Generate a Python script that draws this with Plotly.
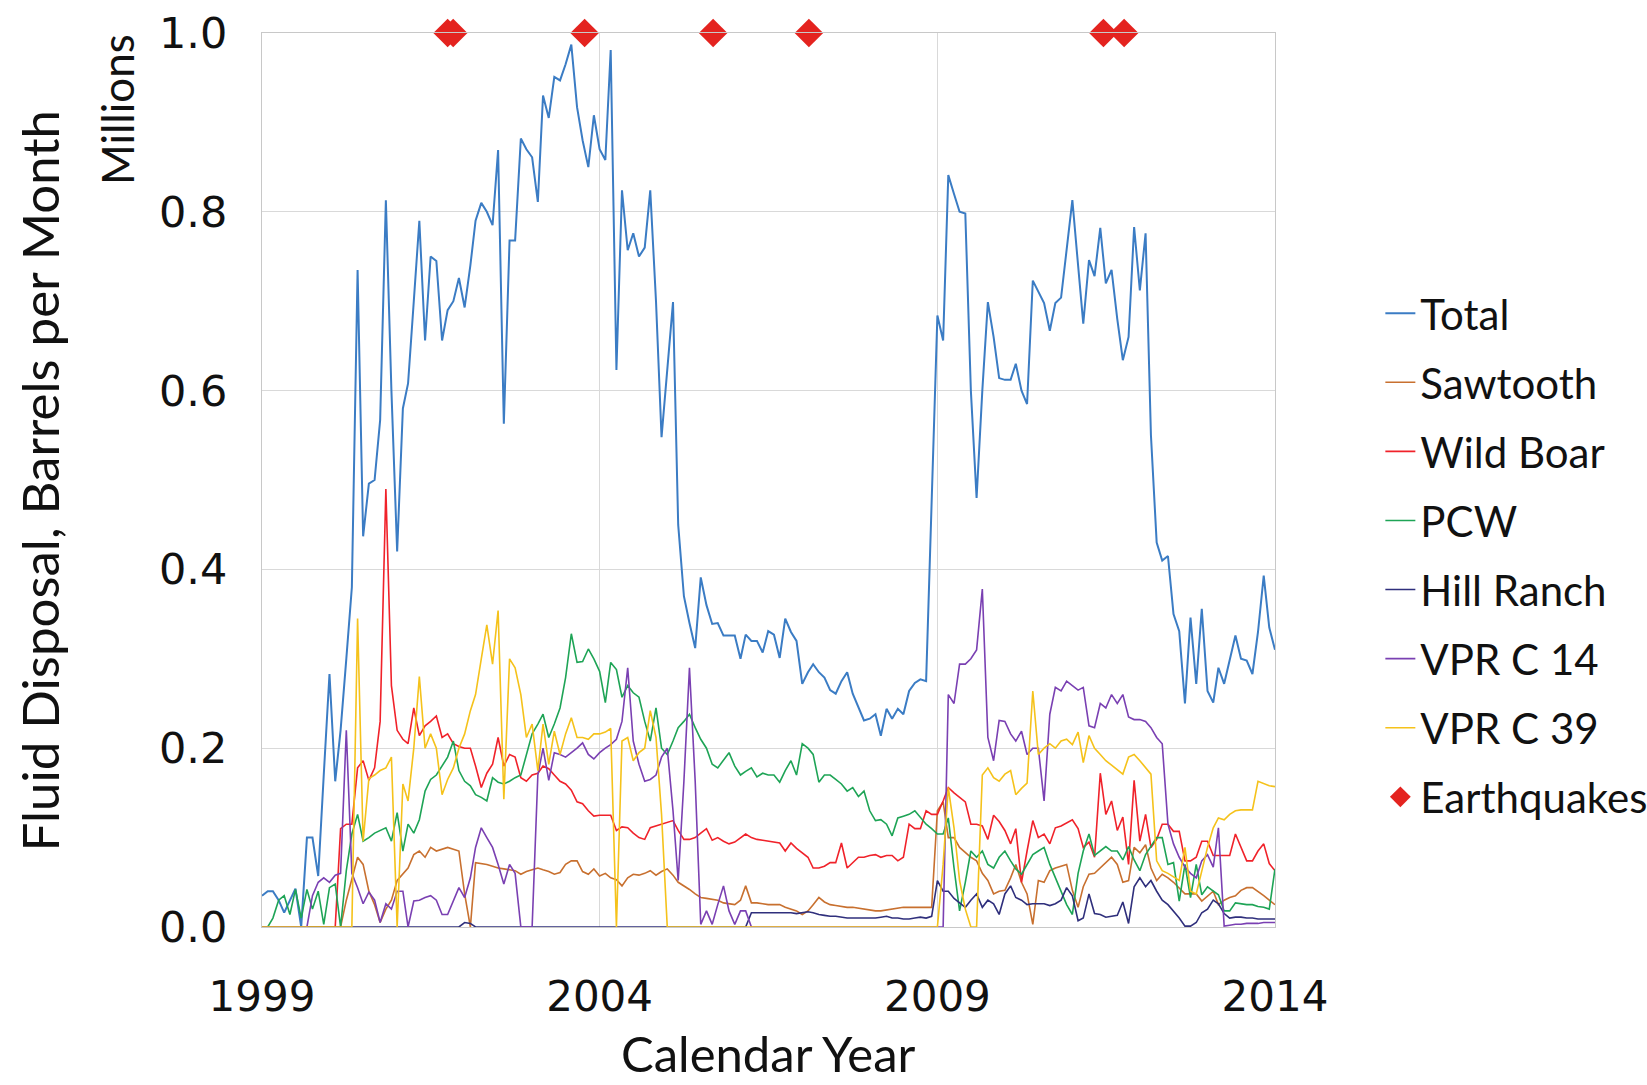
import pandas as pd
import plotly.graph_objects as go

# Monthly fluid disposal (millions of barrels per month), Jan 1999 .. Jan 2014
months = pd.date_range("1999-01-01", periods=181, freq="MS")

total = [
    0.035, 0.040, 0.040, 0.030, 0.016, 0.030, 0.043, 0.000, 0.100, 0.100, 0.057, 0.170,
    0.283, 0.163, 0.220, 0.300, 0.380, 0.735, 0.437, 0.496, 0.500, 0.567, 0.813, 0.600,
    0.420, 0.580, 0.608, 0.700, 0.790, 0.656, 0.750, 0.745, 0.656, 0.690, 0.700, 0.726,
    0.693, 0.740, 0.790, 0.810, 0.800, 0.785, 0.869, 0.563, 0.768, 0.768, 0.882, 0.870,
    0.861, 0.811, 0.930, 0.905, 0.951, 0.947, 0.965, 0.987, 0.917, 0.880, 0.850, 0.908,
    0.870, 0.858, 0.981, 0.623, 0.824, 0.757, 0.776, 0.750, 0.760, 0.824, 0.700, 0.548,
    0.620, 0.699, 0.450, 0.370, 0.340, 0.312, 0.391, 0.360, 0.339, 0.340, 0.326, 0.326,
    0.326, 0.300, 0.327, 0.320, 0.320, 0.307, 0.331, 0.327, 0.301, 0.345, 0.330, 0.320,
    0.272, 0.285, 0.294, 0.285, 0.279, 0.265, 0.261, 0.275, 0.285, 0.261, 0.245, 0.231,
    0.233, 0.238, 0.214, 0.244, 0.233, 0.244, 0.238, 0.264, 0.273, 0.277, 0.275, 0.480,
    0.684, 0.656, 0.841, 0.820, 0.800, 0.798, 0.600, 0.480, 0.600, 0.699, 0.660, 0.614,
    0.612, 0.612, 0.630, 0.600, 0.585, 0.723, 0.710, 0.698, 0.667, 0.698, 0.704, 0.760,
    0.813, 0.740, 0.675, 0.746, 0.728, 0.782, 0.720, 0.735, 0.680, 0.634, 0.660, 0.783,
    0.712, 0.776, 0.550, 0.430, 0.410, 0.415, 0.350, 0.331, 0.250, 0.346, 0.272, 0.356,
    0.264, 0.251, 0.290, 0.272, 0.300, 0.326, 0.300, 0.298, 0.283, 0.330, 0.393, 0.335,
    0.310,
]

sawtooth = [
    0, 0, 0, 0, 0, 0, 0, 0, 0, 0, 0, 0,
    0, 0, 0, 0.030, 0.055, 0.078, 0.070, 0.040, 0.025, 0.005, 0.020, 0.030,
    0.052, 0.060, 0.066, 0.081, 0.085, 0.078, 0.089, 0.085, 0.087, 0.089, 0.087, 0.085,
    0.037, 0.000, 0.072, 0.071, 0.070, 0.068, 0.066, 0.065, 0.064, 0.063, 0.059, 0.062,
    0.064, 0.066, 0.064, 0.062, 0.059, 0.061, 0.070, 0.074, 0.074, 0.062, 0.059, 0.065,
    0.057, 0.060, 0.055, 0.053, 0.046, 0.055, 0.059, 0.058, 0.060, 0.063, 0.058, 0.062,
    0.065, 0.058, 0.050, 0.046, 0.042, 0.037, 0.033, 0.032, 0.031, 0.030, 0.027, 0.026,
    0.025, 0.030, 0.046, 0.027, 0.027, 0.026, 0.025, 0.025, 0.025, 0.022, 0.020, 0.018,
    0.014, 0.018, 0.025, 0.033, 0.028, 0.025, 0.024, 0.023, 0.022, 0.022, 0.021, 0.020,
    0.019, 0.018, 0.018, 0.019, 0.020, 0.021, 0.022, 0.022, 0.022, 0.022, 0.022, 0.022,
    0.130, 0.140, 0.100, 0.100, 0.089, 0.083, 0.078, 0.074, 0.060, 0.052, 0.037, 0.040,
    0.041, 0.055, 0.070, 0.050, 0.037, 0.003, 0.052, 0.050, 0.063, 0.066, 0.068, 0.070,
    0.041, 0.022, 0.045, 0.059, 0.060, 0.066, 0.072, 0.078, 0.070, 0.050, 0.052, 0.089,
    0.083, 0.092, 0.066, 0.052, 0.059, 0.055, 0.050, 0.044, 0.037, 0.037, 0.037, 0.029,
    0.035, 0.040, 0.025, 0.030, 0.033, 0.035, 0.041, 0.044, 0.044, 0.040, 0.035, 0.030,
    0.025,
]

wild_boar = [
    0, 0, 0, 0, 0, 0, 0, 0, 0, 0, 0, 0,
    0, 0, 0.110, 0.115, 0.115, 0.178, 0.186, 0.164, 0.178, 0.230, 0.490, 0.270,
    0.220, 0.210, 0.205, 0.245, 0.214, 0.225, 0.230, 0.236, 0.212, 0.216, 0.205, 0.202,
    0.200, 0.200, 0.180, 0.156, 0.172, 0.182, 0.212, 0.180, 0.193, 0.190, 0.167, 0.163,
    0.170, 0.172, 0.180, 0.177, 0.170, 0.163, 0.160, 0.153, 0.140, 0.138, 0.130, 0.124,
    0.125, 0.125, 0.125, 0.108, 0.112, 0.111, 0.105, 0.100, 0.098, 0.111, 0.113, 0.115,
    0.117, 0.119, 0.108, 0.098, 0.098, 0.100, 0.105, 0.110, 0.097, 0.100, 0.096, 0.093,
    0.095, 0.100, 0.104, 0.100, 0.098, 0.097, 0.096, 0.095, 0.094, 0.085, 0.094, 0.088,
    0.083, 0.078, 0.066, 0.066, 0.068, 0.072, 0.072, 0.094, 0.066, 0.072, 0.078, 0.078,
    0.080, 0.081, 0.078, 0.080, 0.080, 0.074, 0.078, 0.115, 0.110, 0.110, 0.130, 0.126,
    0.126, 0.141, 0.156, 0.150, 0.145, 0.140, 0.115, 0.115, 0.113, 0.098, 0.125, 0.118,
    0.108, 0.093, 0.110, 0.050, 0.085, 0.119, 0.100, 0.104, 0.093, 0.111, 0.113, 0.116,
    0.120, 0.110, 0.089, 0.095, 0.078, 0.172, 0.126, 0.141, 0.108, 0.123, 0.070, 0.164,
    0.096, 0.126, 0.089, 0.098, 0.115, 0.115, 0.107, 0.107, 0.074, 0.074, 0.078, 0.096,
    0.096, 0.080, 0.080, 0.080, 0.080, 0.104, 0.090, 0.074, 0.074, 0.085, 0.093, 0.071,
    0.063,
]

pcw = [
    0.000, 0.000, 0.010, 0.030, 0.035, 0.014, 0.042, 0.010, 0.042, 0.020, 0.040, 0.003,
    0.044, 0.048, 0.000, 0.063, 0.104, 0.126, 0.096, 0.100, 0.105, 0.108, 0.111, 0.096,
    0.128, 0.085, 0.115, 0.105, 0.120, 0.152, 0.165, 0.170, 0.180, 0.190, 0.208, 0.175,
    0.163, 0.158, 0.148, 0.145, 0.141, 0.167, 0.162, 0.160, 0.163, 0.167, 0.170, 0.193,
    0.216, 0.227, 0.238, 0.212, 0.227, 0.245, 0.279, 0.328, 0.296, 0.297, 0.311, 0.300,
    0.286, 0.251, 0.296, 0.288, 0.257, 0.270, 0.262, 0.257, 0.230, 0.208, 0.245, 0.200,
    0.193, 0.208, 0.223, 0.230, 0.238, 0.223, 0.210, 0.200, 0.182, 0.178, 0.187, 0.195,
    0.180, 0.170, 0.174, 0.178, 0.168, 0.172, 0.170, 0.170, 0.162, 0.175, 0.186, 0.170,
    0.205, 0.200, 0.193, 0.162, 0.170, 0.170, 0.165, 0.160, 0.152, 0.156, 0.146, 0.152,
    0.130, 0.119, 0.120, 0.115, 0.102, 0.122, 0.124, 0.126, 0.130, 0.122, 0.115, 0.110,
    0.104, 0.104, 0.122, 0.066, 0.018, 0.050, 0.085, 0.078, 0.085, 0.070, 0.066, 0.078,
    0.085, 0.074, 0.065, 0.059, 0.070, 0.081, 0.085, 0.089, 0.070, 0.055, 0.040, 0.025,
    0.014, 0.060, 0.085, 0.104, 0.080, 0.085, 0.090, 0.085, 0.085, 0.075, 0.090, 0.075,
    0.063, 0.081, 0.090, 0.100, 0.100, 0.070, 0.072, 0.029, 0.070, 0.033, 0.070, 0.036,
    0.045, 0.040, 0.036, 0.018, 0.018, 0.027, 0.026, 0.025, 0.025, 0.023, 0.022, 0.020,
    0.065,
]

hill_ranch = [
    0, 0, 0, 0, 0, 0, 0, 0, 0, 0, 0, 0,
    0, 0, 0, 0, 0, 0, 0, 0, 0, 0, 0, 0,
    0, 0, 0, 0, 0, 0, 0, 0, 0, 0, 0, 0,
    0.005, 0.004, 0, 0, 0, 0, 0, 0, 0, 0, 0, 0,
    0, 0, 0, 0, 0, 0, 0, 0, 0, 0, 0, 0,
    0, 0, 0, 0, 0, 0, 0, 0, 0, 0, 0, 0,
    0, 0, 0, 0, 0, 0, 0, 0, 0, 0, 0, 0,
    0, 0, 0, 0.016, 0.016, 0.016, 0.016, 0.016, 0.016, 0.016, 0.016, 0.015,
    0.016, 0.017, 0.016, 0.014, 0.013, 0.012, 0.012, 0.011, 0.010, 0.010, 0.010, 0.010,
    0.010, 0.010, 0.011, 0.012, 0.010, 0.010, 0.009, 0.009, 0.010, 0.011, 0.010, 0.012,
    0.052, 0.040, 0.040, 0.032, 0.027, 0.022, 0.030, 0.037, 0.022, 0.030, 0.026, 0.014,
    0.037, 0.046, 0.033, 0.030, 0.025, 0.026, 0.026, 0.026, 0.024, 0.026, 0.030, 0.044,
    0.035, 0.007, 0.010, 0.037, 0.015, 0.014, 0.011, 0.012, 0.013, 0.028, 0.004, 0.045,
    0.055, 0.045, 0.052, 0.040, 0.030, 0.025, 0.018, 0.010, 0.001, 0.001, 0.005, 0.016,
    0.020, 0.030, 0.026, 0.015, 0.010, 0.011, 0.011, 0.010, 0.010, 0.009, 0.009, 0.009,
    0.009,
]

vpr_c14 = [
    0, 0, 0, 0, 0, 0, 0, 0, 0, 0.035, 0.050, 0.055,
    0.050, 0.058, 0.060, 0.220, 0.060, 0.044, 0.026, 0.039, 0.030, 0.005, 0.026, 0.020,
    0.040, 0.040, 0.000, 0.029, 0.030, 0.033, 0.035, 0.030, 0.014, 0.014, 0.030, 0.044,
    0.033, 0.055, 0.089, 0.111, 0.100, 0.089, 0.070, 0.048, 0.070, 0.060, 0.000, 0.000,
    0.000, 0.170, 0.200, 0.164, 0.195, 0.193, 0.190, 0.195, 0.200, 0.206, 0.193, 0.188,
    0.195, 0.200, 0.204, 0.210, 0.230, 0.290, 0.208, 0.182, 0.163, 0.165, 0.170, 0.190,
    0.200, 0.130, 0.052, 0.163, 0.290, 0.163, 0.003, 0.018, 0.003, 0.025, 0.046, 0.018,
    0.003, 0.018, 0.018, 0, 0, 0, 0, 0, 0, 0, 0, 0,
    0, 0, 0, 0, 0, 0, 0, 0, 0, 0, 0, 0,
    0, 0, 0, 0, 0, 0, 0, 0, 0, 0, 0, 0,
    0, 0, 0.260, 0.250, 0.294, 0.294, 0.300, 0.310, 0.378, 0.212, 0.186, 0.231,
    0.230, 0.216, 0.208, 0.219, 0.193, 0.200, 0.200, 0.141, 0.238, 0.268, 0.264, 0.275,
    0.270, 0.265, 0.268, 0.225, 0.223, 0.250, 0.245, 0.260, 0.250, 0.260, 0.235, 0.232,
    0.232, 0.230, 0.223, 0.212, 0.205, 0.115, 0.093, 0.078, 0.067, 0.060, 0.055, 0.074,
    0.081, 0.067, 0.111, 0.001, 0.002, 0.003, 0.003, 0.004, 0.004, 0.004, 0.005, 0.005,
    0.005,
]

vpr_c39 = [
    0, 0, 0, 0, 0, 0, 0, 0, 0, 0, 0, 0,
    0, 0, 0, 0, 0, 0.345, 0.096, 0.166, 0.170, 0.175, 0.178, 0.190,
    0.000, 0.160, 0.141, 0.200, 0.280, 0.200, 0.216, 0.200, 0.148, 0.165, 0.178, 0.200,
    0.216, 0.242, 0.260, 0.300, 0.338, 0.294, 0.354, 0.143, 0.300, 0.290, 0.260, 0.212,
    0.227, 0.175, 0.227, 0.182, 0.219, 0.193, 0.216, 0.234, 0.212, 0.212, 0.210, 0.216,
    0.216, 0.218, 0.222, 0.000, 0.208, 0.212, 0.186, 0.195, 0.200, 0.242, 0.212, 0.126,
    0, 0, 0, 0, 0, 0, 0, 0, 0, 0, 0, 0,
    0, 0, 0, 0, 0, 0, 0, 0, 0, 0, 0, 0,
    0, 0, 0, 0, 0, 0, 0, 0, 0, 0, 0, 0,
    0, 0, 0, 0, 0, 0, 0, 0, 0, 0, 0, 0,
    0.000, 0.070, 0.156, 0.111, 0.052, 0.020, 0.000, 0.000, 0.170, 0.178, 0.167, 0.163,
    0.171, 0.175, 0.148, 0.155, 0.161, 0.264, 0.193, 0.200, 0.205, 0.200, 0.208, 0.210,
    0.204, 0.218, 0.184, 0.214, 0.200, 0.193, 0.186, 0.181, 0.176, 0.171, 0.190, 0.193,
    0.186, 0.178, 0.171, 0.074, 0.063, 0.060, 0.056, 0.052, 0.089, 0.040, 0.037, 0.063,
    0.089, 0.111, 0.122, 0.120, 0.126, 0.130, 0.131, 0.131, 0.131, 0.163, 0.160, 0.158,
    0.157,
]

# Earthquake dates, marked along the top of the chart
quake_dates = ["2001-10-01", "2001-10-31", "2003-10-12", "2005-09-06",
               "2007-02-06", "2011-06-18", "2011-10-08"]
quake_level = [1.0, 1.0, 1.0, 1.0, 1.0, 1.0, 1.0]

year_ticks = ["1999-01-01", "2004-01-01", "2009-01-01", "2014-01-01"]
year_labels = ["1999", "2004", "2009", "2014"]
value_ticks = [0.0, 0.2, 0.4, 0.6, 0.8, 1.0]

series = [
    ("Total", total, "#3b7cc4", 2.0),
    ("Sawtooth", sawtooth, "#c8702f", 1.6),
    ("Wild Boar", wild_boar, "#f0222a", 1.6),
    ("PCW", pcw, "#1ea456", 1.6),
    ("Hill Ranch", hill_ranch, "#2f2f7c", 1.6),
    ("VPR C 14", vpr_c14, "#7a40b2", 1.6),
    ("VPR C 39", vpr_c39, "#f5c21b", 1.6),
]

fig = go.Figure()
for name, vals, color, width in series:
    fig.add_trace(go.Scatter(
        x=months, y=vals, name=name, mode="lines",
        line=dict(color=color, width=width),
        legendgroup=name,
    ))

fig.add_trace(go.Scatter(
    x=pd.to_datetime(quake_dates), y=quake_level, name="Earthquakes",
    mode="markers", legendgroup="Earthquakes",
    marker=dict(symbol="diamond", size=22, color="#e4231f"),
    cliponaxis=False,
))

fig.update_layout(
    width=1647, height=1085,
    margin=dict(l=262, r=372, t=33, b=158, autoexpand=False),
    paper_bgcolor="white", plot_bgcolor="white",
    font=dict(family="Lato", size=42, color="#111111"),
    showlegend=True,
    legend=dict(
        x=1.104, xanchor="left", y=0.4157, yanchor="middle",
        font=dict(family="Lato", size=42, color="#111111"),
        tracegroupgap=11.5, bgcolor="rgba(0,0,0,0)",
    ),
    xaxis=dict(
        type="date", range=["1999-01-01", "2014-01-01"],
        tickmode="array", tickvals=year_ticks, ticktext=year_labels,
        tickfont=dict(family="DejaVu Sans", size=42, color="#111111"),
        showgrid=True, gridcolor="#d9d9d9", gridwidth=1,
        showline=True, linecolor="#c8c8c8", linewidth=1, mirror=True,
        ticks="", ticklabelstandoff=33, zeroline=False,
    ),
    yaxis=dict(
        range=[0, 1.0], tickmode="array", tickvals=value_ticks,
        tickformat=".1f",
        tickfont=dict(family="DejaVu Sans", size=43, color="#111111"),
        showgrid=True, gridcolor="#d9d9d9", gridwidth=1,
        showline=True, linecolor="#c8c8c8", linewidth=1, mirror=True,
        ticks="", ticklabelstandoff=25, zeroline=False,
    ),
    annotations=[
        dict(text="Fluid Disposal, Barrels per Month", textangle=-90,
             xref="paper", yref="paper", x=-0.2201, y=0.4985,
             xanchor="center", yanchor="middle", showarrow=False,
             font=dict(family="Lato", size=51, color="#111111")),
        dict(text="Millions", textangle=-90,
             xref="paper", yref="paper", x=-0.1431, y=0.9138,
             xanchor="center", yanchor="middle", showarrow=False,
             font=dict(family="Lato", size=44, color="#111111")),
        dict(text="Calendar Year",
             xref="paper", yref="paper", x=0.5, y=-0.1758,
             xanchor="center", yanchor="bottom", showarrow=False,
             font=dict(family="Lato", size=49, color="#111111")),
    ],
)

fig.write_html("out.html")
